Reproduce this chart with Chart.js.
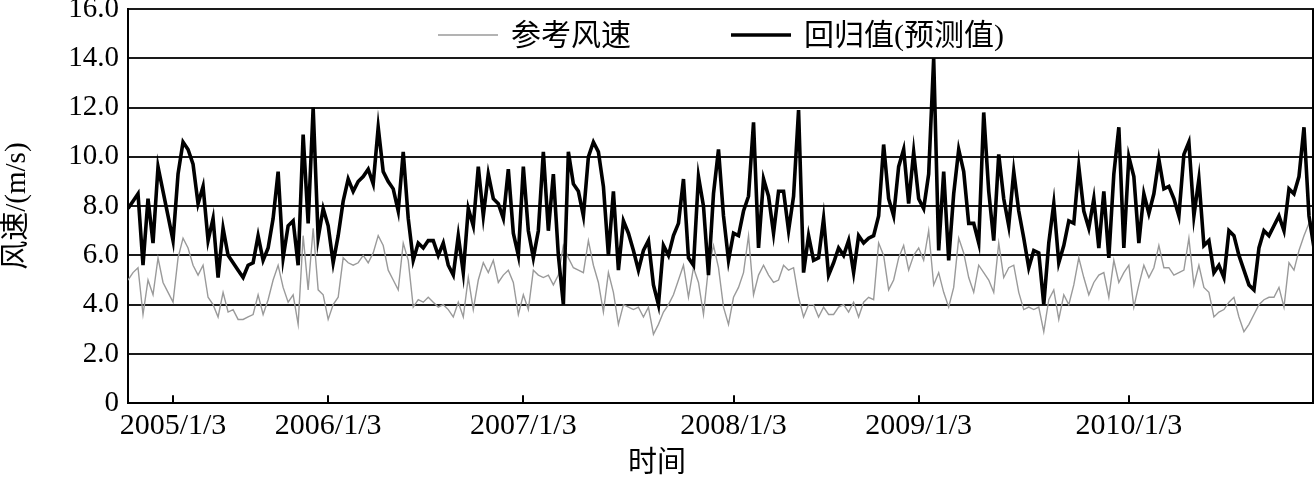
<!DOCTYPE html>
<html>
<head>
<meta charset="utf-8">
<script src="https://cdn.jsdelivr.net/npm/chart.js@4.4.1/dist/chart.umd.min.js"></script>
<style>
  html, body { margin: 0; padding: 0; background: #fff; }
  #wrap { width: 1314px; height: 482px; position: relative; }
</style>
</head>
<body>
<div id="wrap"><canvas id="chart"></canvas></div>
<script>
// Series labels
const seriesNames = ['参考风速', '回归值(预测值)'];

// x tick positions (sample index) and their date labels
const tickIdx = [9, 40, 79, 121, 158, 200];
const tickLabels = ['2005/1/3', '2006/1/3', '2007/1/3', '2008/1/3', '2009/1/3', '2010/1/3'];

// y ticks
const yTicks = [0, 2, 4, 6, 8, 10, 12, 14, 16];

// 参考风速 (gray)
const refSpeed = [
    5.0, 5.3, 5.5, 3.6, 5.0, 4.4, 5.9, 4.9, 4.5, 4.1, 5.9, 6.7, 6.3, 5.6, 5.2, 5.6, 4.3, 4.0, 3.5, 4.5, 3.7, 3.8, 3.4, 3.4, 3.5, 3.6, 4.4,
    3.6, 4.2, 5.0, 5.6, 4.7, 4.1, 4.4, 3.2, 6.8, 4.6, 7.1, 4.6, 4.4, 3.4, 4.0, 4.3, 5.9, 5.7, 5.6, 5.7, 6.0, 5.7, 6.1, 6.8, 6.4, 5.4,
    5.0, 4.6, 6.5, 5.8, 3.9, 4.2, 4.1, 4.3, 4.1, 3.9, 4.0, 3.8, 3.5, 4.1, 3.5, 5.1, 3.8, 5.0, 5.7, 5.3, 5.8, 4.9, 5.2, 5.4, 4.9, 3.6, 4.4,
    3.8, 5.4, 5.2, 5.1, 5.2, 4.8, 5.2, 6.4, 5.9, 5.5, 5.4, 5.3, 6.6, 5.6, 4.9, 3.7, 5.3, 4.5, 3.2, 4.0, 3.9, 3.8, 3.9, 3.5, 3.9, 2.8,
    3.2, 3.7, 4.0, 4.4, 5.0, 5.6, 4.3, 5.5, 4.9, 3.6, 5.5, 6.4, 5.5, 3.9, 3.2, 4.3, 4.7, 5.3, 6.8, 4.4, 5.2, 5.6, 5.2, 4.9, 5.0, 5.6,
    5.4, 5.5, 4.3, 3.5, 4.0, 4.0, 3.5, 3.9, 3.6, 3.6, 3.9, 4.0, 3.7, 4.1, 3.5, 4.1, 4.3, 4.2, 6.5, 6.0, 4.6, 5.0, 5.9, 6.4, 5.4, 6.0,
    6.3, 5.8, 7.0, 4.8, 5.3, 4.5, 3.9, 4.7, 6.7, 6.1, 5.1, 4.5, 5.6, 5.3, 5.0, 4.5, 6.5, 5.1, 5.5, 5.6, 4.5, 3.8, 3.9, 3.8, 3.9, 2.9, 4.2,
    4.6, 3.4, 4.4, 4.0, 4.8, 5.9, 5.1, 4.4, 4.9, 5.2, 5.3, 4.3, 5.8, 4.9, 5.3, 5.6, 3.9, 4.8, 5.6, 5.1, 5.5, 6.4, 5.5, 5.5, 5.2, 5.3,
    5.4, 6.7, 4.8, 5.6, 4.7, 4.5, 3.5, 3.7, 3.8, 4.1, 4.3, 3.5, 2.9, 3.2, 3.6, 4.0, 4.2, 4.3, 4.3, 4.7, 3.9, 5.7, 5.4, 6.2, 6.8, 7.3, 7.4
];

// 回归值(预测值) (black)
const predSpeed = [
    7.9, 8.2, 8.5, 5.6, 8.3, 6.5, 9.6, 8.6, 7.6, 6.6, 9.3, 10.6, 10.3, 9.7, 8.1, 8.8, 6.6, 7.5, 5.1, 7.1, 6.0, 5.7, 5.4, 5.1, 5.6, 5.7, 6.8,
    5.8, 6.3, 7.5, 9.4, 5.9, 7.2, 7.4, 5.6, 10.9, 7.3, 12.0, 6.7, 7.9, 7.2, 5.7, 6.8, 8.2, 9.1, 8.6, 9.0, 9.2, 9.5, 8.9, 11.2, 9.4, 9.0,
    8.7, 7.8, 10.2, 7.5, 5.8, 6.5, 6.3, 6.6, 6.6, 6.0, 6.5, 5.6, 5.2, 6.8, 5.3, 7.9, 7.2, 9.6, 7.6, 9.3, 8.3, 8.1, 7.5, 9.5, 6.9, 6.0, 9.6,
    7.0, 5.9, 7.0, 10.2, 7.0, 9.3, 6.0, 4.0, 10.2, 8.9, 8.6, 7.6, 10.0, 10.6, 10.2, 8.8, 6.0, 8.6, 5.4, 7.4, 6.9, 6.2, 5.4, 6.2, 6.6, 4.8,
    4.0, 6.4, 6.0, 6.8, 7.3, 9.1, 5.9, 5.6, 9.2, 8.0, 5.2, 8.5, 10.3, 7.6, 5.8, 6.9, 6.8, 7.8, 8.4, 11.4, 6.3, 9.1, 8.4, 6.9, 8.6, 8.6,
    7.0, 8.4, 11.9, 5.3, 6.8, 5.8, 5.9, 7.5, 5.2, 5.7, 6.3, 6.0, 6.6, 5.3, 6.8, 6.5, 6.7, 6.8, 7.6, 10.5, 8.3, 7.6, 9.6, 10.3, 8.1, 10.2,
    8.3, 7.9, 9.3, 14.0, 6.2, 9.4, 5.8, 8.5, 10.3, 9.4, 7.3, 7.3, 6.5, 11.8, 8.6, 6.6, 10.1, 8.3, 7.2, 9.4, 7.8, 6.7, 5.5, 6.2, 6.1, 4.0, 6.5,
    8.1, 5.7, 6.4, 7.4, 7.3, 9.6, 7.8, 7.1, 8.3, 6.3, 8.6, 5.9, 9.3, 11.2, 6.3, 10.0, 9.2, 6.5, 8.5, 7.7, 8.5, 9.9, 8.7, 8.8, 8.3, 7.6,
    10.1, 10.6, 7.6, 9.1, 6.4, 6.6, 5.3, 5.6, 5.1, 7.0, 6.8, 6.0, 5.4, 4.8, 4.6, 6.3, 7.0, 6.8, 7.2, 7.6, 7.0, 8.7, 8.5, 9.2, 11.2, 7.6, 6.3
];

const FONT = '"Liberation Serif", "Noto Sans CJK SC", serif';
const GRAY = '#9a9a9a';
const BLACK = '#000000';

// right frame line, inward x tick marks and the legend drawn inside the plot
const framePlugin = {
    id: 'frame',
    afterDraw(chart) {
        const { ctx, chartArea: a, scales: { x } } = chart;
        ctx.save();
        ctx.strokeStyle = '#000';
        ctx.lineWidth = 2;
        ctx.beginPath();
        ctx.moveTo(a.right - 1, a.top);
        ctx.lineTo(a.right - 1, a.bottom);
        tickIdx.forEach(v => {
            const px = Math.round(x.getPixelForValue(v));
            ctx.moveTo(px, a.bottom);
            ctx.lineTo(px, a.bottom - 8);
        });
        ctx.stroke();

        // legend
        ctx.font = '30px ' + FONT;
        ctx.textBaseline = 'middle';
        ctx.fillStyle = '#000';
        const lineLen = 60, gap = 13, itemGap = 100;
        const items = chart.data.datasets.map(d => ({
            label: d.label, color: d.borderColor, width: d.borderWidth,
            tw: ctx.measureText(d.label).width
        }));
        const total = items.reduce((s, it) => s + lineLen + gap + it.tw, 0) + itemGap * (items.length - 1);
        let cx = (a.left + a.right) / 2 - total / 2;
        const cy = a.top + 26;
        items.forEach(it => {
            ctx.strokeStyle = it.color;
            ctx.lineWidth = it.width;
            ctx.beginPath();
            ctx.moveTo(cx, cy);
            ctx.lineTo(cx + lineLen, cy);
            ctx.stroke();
            ctx.fillText(it.label, cx + lineLen + gap, cy + 2);
            cx += lineLen + gap + it.tw + itemGap;
        });
        ctx.restore();
    }
};

const ctx = document.getElementById('chart').getContext('2d');
new Chart(ctx, {
    type: 'line',
    data: {
        datasets: [
            {
                label: seriesNames[0],
                data: refSpeed.map((v, i) => ({ x: i, y: v })),
                borderColor: GRAY,
                borderWidth: 1.4,
                pointRadius: 0,
                tension: 0,
                order: 2
            },
            {
                label: seriesNames[1],
                data: predSpeed.map((v, i) => ({ x: i, y: v })),
                borderColor: BLACK,
                borderWidth: 3.6,
                pointRadius: 0,
                tension: 0,
                order: 1
            }
        ]
    },
    options: {
        responsive: true,
        maintainAspectRatio: false,
        animation: false,
        devicePixelRatio: 1,
        layout: { padding: { left: 0, right: 0, top: 9, bottom: 0 } },
        plugins: {
            legend: { display: false },
            tooltip: { enabled: false },
            title: {
                display: true,
                position: 'bottom',
                text: '时间',
                color: '#000',
                font: { family: FONT, size: 29, weight: 'normal', lineHeight: 1.2 },
                padding: { top: 0, bottom: 0 }
            }
        },
        scales: {
            x: {
                type: 'linear',
                min: 0,
                max: refSpeed.length - 1,
                afterBuildTicks: s => { s.ticks = tickIdx.map(v => ({ value: v })); },
                afterFit: s => { s.height = 44; s.paddingLeft = 0; s.paddingRight = 0; },
                grid: { display: false, drawTicks: false },
                border: { display: true, color: '#000', width: 2 },
                ticks: {
                    autoSkip: false,
                    maxRotation: 0,
                    padding: 5,
                    color: '#000',
                    font: { family: FONT, size: 30 },
                    callback: v => tickLabels[tickIdx.indexOf(v)]
                }
            },
            y: {
                min: 0,
                max: 16,
                afterBuildTicks: s => { s.ticks = yTicks.map(v => ({ value: v })); },
                afterFit: s => { s.width = 128; s.paddingTop = 0; s.paddingBottom = 0; },
                grid: { color: '#1a1a1a', lineWidth: 2, drawTicks: false },
                border: { display: true, color: '#000', width: 2 },
                ticks: {
                    padding: 9,
                    color: '#000',
                    font: { family: FONT, size: 29 },
                    callback: v => (v === 0 ? '0' : v.toFixed(1))
                },
                title: {
                    display: true,
                    text: '风速/(m/s)',
                    color: '#000',
                    font: { family: FONT, size: 29 },
                    padding: 0
                }
            }
        }
    },
    plugins: [framePlugin]
});
</script>
</body>
</html>
